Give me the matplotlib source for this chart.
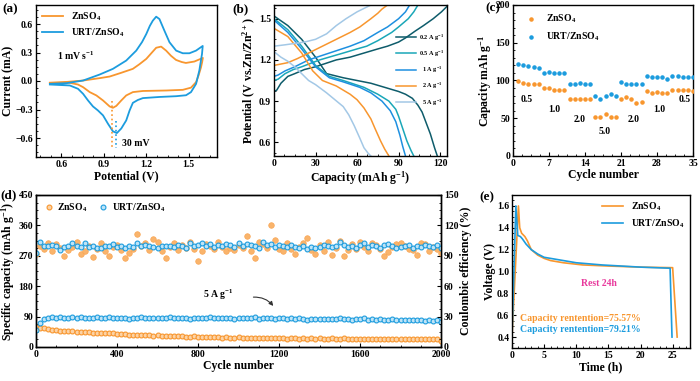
import numpy as np
import matplotlib
matplotlib.use('Agg')
import matplotlib.pyplot as plt

plt.rcParams['font.family'] = ['Liberation Serif', 'DejaVu Serif']
plt.rcParams['font.weight'] = 'bold'
plt.rcParams['axes.labelweight'] = 'bold'
plt.rcParams['mathtext.default'] = 'regular'
plt.rcParams['xtick.direction'] = 'in'
plt.rcParams['ytick.direction'] = 'in'
plt.rcParams['xtick.labelsize'] = 7
plt.rcParams['ytick.labelsize'] = 7
plt.rcParams['axes.linewidth'] = 1.0

ORANGE = '#F8962E'
BLUE = '#1C9CDE'
LBL = r'ZnSO$_4$'
LBL_U = r'URT/ZnSO$_4$'

# (a) CV curves
cv_zn_x = [0.518, 0.635, 0.753, 0.870, 0.941, 1.020, 1.105, 1.150, 1.200, 1.240, 1.270, 1.305, 1.340,
           1.375, 1.410, 1.450, 1.480, 1.540, 1.600,
           1.595, 1.587, 1.570, 1.552, 1.516, 1.458, 1.340, 1.176, 1.105, 1.058, 1.023, 0.988, 0.964,
           0.941, 0.894, 0.847, 0.800, 0.753, 0.717, 0.659, 0.518]
cv_zn_y = [-0.019, -0.010, 0.005, 0.030, 0.047, 0.085, 0.128, 0.175, 0.233, 0.300, 0.350, 0.362, 0.320,
           0.265, 0.222, 0.200, 0.190, 0.205, 0.243,
           0.200, 0.145, 0.060, -0.012, -0.070, -0.093, -0.100, -0.105, -0.117, -0.152, -0.205, -0.262,
           -0.282, -0.268, -0.205, -0.152, -0.117, -0.065, -0.037, -0.019, -0.019]
cv_u_x = [0.518, 0.635, 0.753, 0.870, 0.964, 1.058, 1.129, 1.170, 1.200, 1.225, 1.246, 1.270, 1.293,
          1.328, 1.364, 1.411, 1.458, 1.505, 1.552, 1.599,
          1.594, 1.575, 1.552, 1.516, 1.481, 1.411, 1.293, 1.176, 1.140, 1.105, 1.082, 1.058, 1.023,
          0.992, 0.964, 0.929, 0.894, 0.858, 0.823, 0.788, 0.753, 0.717, 0.659, 0.518]
cv_u_y = [-0.030, -0.023, 0.005, 0.068, 0.128, 0.215, 0.320, 0.410, 0.495, 0.580, 0.635, 0.677, 0.652,
          0.530, 0.408, 0.320, 0.292, 0.292, 0.320, 0.369,
          0.285, 0.110, -0.030, -0.117, -0.150, -0.160, -0.168, -0.180, -0.200, -0.230, -0.310, -0.415,
          -0.500, -0.548, -0.530, -0.450, -0.362, -0.310, -0.268, -0.205, -0.135, -0.082, -0.047, -0.037]

# (b) GCD curves, capacity (mAh/g) vs potential (V)
rates = ['0.2 A g$^{-1}$', '0.5 A g$^{-1}$', '  1 A g$^{-1}$', '  2 A g$^{-1}$', '  5 A g$^{-1}$']
rate_colors = ['#0E5C6B', '#1AA7B8', '#1E90E0', '#F8962E', '#A3C8E6']
dis_x = [[0, 10, 20, 30, 38, 50, 60, 70, 80, 90, 95, 100, 104, 107, 110, 113, 116, 118],
         [0, 10, 20, 30, 40, 50, 65, 75, 83, 88, 90, 93, 96, 99, 101],
         [0, 10, 20, 30, 40, 50, 62, 70, 78, 84, 88, 91, 93, 95],
         [0, 10, 20, 28, 35, 45, 55, 60, 65, 70, 73, 77, 80, 83],
         [0, 5, 10, 15, 20, 25, 30, 38, 44, 50, 54, 58, 62, 65, 68, 70]]
dis_y = [[1.52, 1.45, 1.35, 1.22, 1.10, 1.07, 1.05, 1.03, 1.00, 0.97, 0.95, 0.92, 0.87, 0.82, 0.74, 0.66, 0.56, 0.50],
         [1.50, 1.42, 1.30, 1.16, 1.08, 1.05, 1.00, 0.95, 0.90, 0.84, 0.79, 0.70, 0.61, 0.54, 0.50],
         [1.49, 1.40, 1.28, 1.15, 1.07, 1.04, 1.00, 0.96, 0.90, 0.83, 0.75, 0.65, 0.57, 0.50],
         [1.43, 1.37, 1.25, 1.12, 1.05, 1.01, 0.95, 0.91, 0.85, 0.77, 0.70, 0.61, 0.55, 0.50],
         [1.26, 1.22, 1.19, 1.15, 1.10, 1.05, 1.02, 0.96, 0.91, 0.86, 0.80, 0.72, 0.63, 0.56, 0.52, 0.50]]
chg_x = [[0, 2, 5, 10, 15, 22, 30, 45, 55, 65, 75, 82, 90, 95, 102, 108, 115, 121, 126],
         [0, 3, 8, 14, 20, 33, 50, 60, 67, 75, 80, 85, 90, 97, 101, 104],
         [0, 3, 8, 15, 25, 40, 55, 65, 75, 82, 90, 95, 98],
         [0, 5, 10, 17, 25, 35, 45, 55, 62, 70, 75, 78, 82],
         [0, 8, 15, 22, 30, 38, 45, 52, 60, 66, 70]]
chg_y = [[0.97, 0.98, 1.03, 1.08, 1.10, 1.13, 1.15, 1.20, 1.22, 1.25, 1.28, 1.30, 1.33, 1.36, 1.41, 1.45, 1.50, 1.55, 1.60],
         [1.05, 1.06, 1.10, 1.13, 1.15, 1.20, 1.25, 1.28, 1.30, 1.34, 1.37, 1.40, 1.44, 1.50, 1.55, 1.60],
         [1.08, 1.09, 1.12, 1.15, 1.20, 1.25, 1.30, 1.34, 1.40, 1.44, 1.50, 1.55, 1.60],
         [1.16, 1.17, 1.18, 1.21, 1.25, 1.30, 1.35, 1.40, 1.44, 1.50, 1.54, 1.57, 1.60],
         [1.30, 1.31, 1.32, 1.33, 1.35, 1.39, 1.45, 1.50, 1.55, 1.58, 1.60]]

# (c) rate performance
rate_cycles = list(range(1, 36))
rate_zn = [99, 97, 96, 95, 95, 90, 90, 88, 88, 88, 75, 75, 75, 75, 75, 52, 52, 56, 52, 52,
           75, 78, 75, 70, 72, 86, 84, 85, 84, 84, 87, 87, 87, 87, 86]
rate_u = [122, 120, 119, 118, 116, 110, 111, 110, 110, 110, 95, 95, 97, 95, 95, 80, 75, 80, 82, 80,
          98, 95, 96, 95, 95, 106, 105, 105, 104, 102, 106, 106, 105, 105, 105]
rate_text = ['0.5', '1.0', '2.0', '5.0', '2.0', '1.0', '0.5']
rate_text_x = [2.7, 8.0, 13.0, 17.9, 23.4, 28.5, 33.4]
rate_text_y = [75, 62, 48, 32, 48, 62, 75]

# (d) long cycling at 5 A/g, every 20 cycles
cyc = list(range(0, 2001, 20))
cap_u = [50, 72, 82, 87, 88, 87, 88, 86, 87, 88,
         87, 88, 87, 86, 87, 88, 87, 87, 88, 87,
         86, 85, 87, 82, 86, 87, 88, 86, 87, 85,
         87, 86, 87, 88, 86, 85, 87, 86, 84, 87,
         86, 85, 87, 88, 86, 87, 85, 86, 87, 84,
         86, 87, 85, 86, 88, 84, 86, 85, 87, 83,
         86, 85, 84, 86, 83, 85, 84, 81, 84, 83,
         82, 84, 83, 82, 84, 85, 82, 83, 81, 83,
         82, 85, 81, 82, 80, 82, 81, 80, 82, 79,
         81, 80, 79, 81, 79, 80, 78, 79, 77, 79,
         74]
cap_zn = [60, 57, 56, 53, 51, 50, 48, 48, 46, 46,
          45, 45, 43, 44, 42, 42, 41, 42, 40, 40,
          39, 38, 39, 37, 37, 36, 37, 35, 35, 34,
          35, 33, 33, 34, 32, 32, 33, 31, 31, 32,
          30, 30, 31, 29, 30, 29, 28, 30, 28, 28,
          29, 27, 28, 28, 27, 28, 26, 27, 28, 26,
          27, 26, 25, 27, 26, 25, 27, 25, 26, 25,
          26, 25, 24, 26, 25, 24, 26, 25, 24, 25,
          24, 25, 24, 23, 25, 24, 23, 25, 24, 23,
          24, 25, 23, 24, 23, 24, 25, 23, 24, 25,
          18]
ce_u = [93, 104, 100, 100, 101, 100, 96, 99, 100, 103,
        100, 99, 103, 99, 100, 98, 98, 100, 100, 102,
        99, 100, 98, 100, 99, 103, 100, 101, 100, 99,
        98, 100, 100, 100, 99, 101, 100, 98, 103, 100,
        101, 103, 100, 102, 99, 101, 100, 102, 101, 99,
        103, 100, 102, 101, 100, 98, 104, 101, 102, 99,
        101, 100, 99, 101, 99, 98, 100, 97, 99, 98,
        99, 101, 100, 99, 100, 104, 101, 99, 100, 98,
        101, 103, 99, 101, 100, 98, 101, 102, 100, 98,
        99, 100, 101, 98, 100, 99, 101, 100, 99, 101,
        98]
ce_zn = [92, 100, 97, 103, 95, 102, 98, 90, 96, 99,
         104, 92, 95, 100, 89, 97, 103, 95, 90, 99,
         101, 96, 88, 93, 97, 112, 100, 103, 96, 107,
         104, 95, 88, 99, 103, 96, 101, 98, 104, 97,
         85, 95, 102, 100, 97, 104, 99, 95, 98, 96,
         101, 98, 110, 95, 88, 104, 102, 98, 120, 106,
         97, 95, 103, 97, 92, 99, 103, 108, 96, 92,
         101, 95, 104, 91, 98, 105, 90, 96, 102, 97,
         104, 99, 95, 103, 101, 97, 90, 94, 99, 102,
         103, 100, 97, 96, 91, 103, 102, 95, 99, 97,
         93]

# (e) self-discharge
sd_zn_t = [0, 0.5, 1.0, 1.2, 1.5, 2.0, 2.4, 3.0, 4.0, 5.0, 6.0, 8.0, 11.0, 15.0, 20.0, 25.0, 25.7]
sd_zn_v = [0.40, 1.00, 1.60, 1.40, 1.35, 1.32, 1.28, 1.20, 1.15, 1.12, 1.10, 1.08, 1.06, 1.05, 1.04, 1.035, 0.40]
sd_u_t = [0, 0.3, 0.6, 0.9, 1.3, 1.6, 2.2, 3.0, 4.0, 5.0, 7.0, 10.0, 14.0, 20.0, 24.6, 24.9]
sd_u_v = [0.40, 1.00, 1.60, 1.33, 1.32, 1.30, 1.25, 1.20, 1.16, 1.13, 1.11, 1.08, 1.06, 1.04, 1.03, 0.40]

W, H = 700, 381
fig = plt.figure(figsize=(7.0, 3.81), dpi=100)


def box(l, t, r, b):
    return [l / W, 1 - b / H, (r - l) / W, (b - t) / H]


def style(ax):
    ax.minorticks_on()
    ax.tick_params(which='major', length=3, width=0.8, pad=2)
    ax.tick_params(which='minor', length=1.5, width=0.6)
    for lab in ax.get_xticklabels() + ax.get_yticklabels():
        lab.set_fontweight('bold')


AX_FS = 8.5

# ---- (a)
ax = fig.add_axes(box(36, 5, 217, 157))
ax.plot(cv_zn_x, cv_zn_y, color=ORANGE, lw=1.3, label=LBL)
ax.plot(cv_u_x, cv_u_y, color=BLUE, lw=1.3, label=LBL_U)
ax.plot([0.955, 0.955], [-0.21, -0.70], ls=':', color=ORANGE, lw=1.2)
ax.plot([0.985, 0.985], [-0.42, -0.70], ls=':', color=BLUE, lw=1.2)
ax.text(1.03, -0.66, '30 mV', fontsize=7, va='center')
ax.text(0.565, 0.27, '1 mV s$^{-1}$', fontsize=7, va='center')
ax.set_xlim(0.42, 1.70)
ax.set_ylim(-0.80, 0.80)
ax.set_xticks([0.6, 0.9, 1.2, 1.5])
ax.set_yticks([-0.6, -0.3, 0.0, 0.3, 0.6])
ax.set_xlabel('Potential (V)', fontsize=AX_FS, labelpad=1)
ax.set_ylabel('Current (mA)', fontsize=AX_FS, labelpad=1)
ax.legend(loc='upper left', frameon=False, fontsize=7, handlelength=2.2, borderaxespad=0.2,
          labelspacing=0.3)
style(ax)

# ---- (b)
ax = fig.add_axes(box(274, 5, 447, 156))
for i in range(len(rates)):
    ax.plot(chg_x[i], chg_y[i], color=rate_colors[i], lw=1.1, label=rates[i])
    ax.plot(dis_x[i], dis_y[i], color=rate_colors[i], lw=1.1)
ax.set_xlim(0, 125)
ax.set_ylim(0.5, 1.6)
ax.set_xticks([0, 30, 60, 90, 120])
ax.set_yticks([0.6, 0.9, 1.2, 1.5])
ax.set_xlabel('Capacity (mAh g$^{-1}$)', fontsize=AX_FS, labelpad=1)
ax.set_ylabel('Potential (V vs.Zn/Zn$^{2+}$)', fontsize=AX_FS, labelpad=1)
ax.legend(loc='upper right', bbox_to_anchor=(1.0, 0.84), frameon=False, fontsize=4.5,
          handlelength=3.2, handletextpad=0.4, labelspacing=0.95, borderaxespad=0.1)
style(ax)

# ---- (c)
ax = fig.add_axes(box(513, 5, 693, 156))
ax.scatter(rate_cycles, rate_zn, s=5, color=ORANGE, label=LBL, zorder=3)
ax.scatter(rate_cycles, rate_u, s=5, color=BLUE, label=LBL_U, zorder=3)
for tx, xx, yy in zip(rate_text, rate_text_x, rate_text_y):
    ax.text(xx, yy, tx, fontsize=7, ha='center', va='center')
ax.set_xlim(0, 35)
ax.set_ylim(0, 200)
ax.set_xticks([0, 7, 14, 21, 28, 35])
ax.set_yticks([0, 50, 100, 150, 200])
ax.set_xlabel('Cycle number', fontsize=AX_FS, labelpad=1)
ax.set_ylabel('Capacity mAh g$^{-1}$', fontsize=AX_FS, labelpad=1)
ax.legend(loc='upper left', frameon=False, fontsize=7, handletextpad=0.6, borderaxespad=0.4,
          markerscale=1.0, labelspacing=0.5)
style(ax)

# ---- (d)
ax = fig.add_axes(box(36, 195, 441, 347))
ax2 = ax.twinx()
ax.plot(cyc, cap_zn, 'o', ms=3.5, mfc='#FCD3A6', mec=ORANGE, mew=0.8, label=LBL, zorder=3)
ax.plot(cyc, cap_u, 'o', ms=3.5, mfc='#BFE4F7', mec=BLUE, mew=0.8, label=LBL_U, zorder=3)
ax2.plot(cyc, ce_zn, 'o', ms=4, mfc='#F9B46C', mec='#F9A553', mew=0.5)
ax2.plot(cyc, ce_u, 'o', ms=3.5, mfc='#BFE4F7', mec=BLUE, mew=0.8)
ax.text(900, 154, '5 A g$^{-1}$', fontsize=7, ha='center', va='center')
ax.annotate('', xy=(1180, 115), xytext=(1060, 147),
            arrowprops=dict(arrowstyle='-|>', color='#333333', lw=0.8, mutation_scale=6,
                            connectionstyle='arc3,rad=-0.3'))
ax.set_xlim(0, 2000)
ax.set_ylim(0, 450)
ax2.set_ylim(0, 150)
ax.set_xticks([0, 400, 800, 1200, 1600, 2000])
ax.set_yticks([0, 90, 180, 270, 360, 450])
ax2.set_yticks([0, 30, 60, 90, 120, 150])
ax.set_xlabel('Cycle number', fontsize=AX_FS, labelpad=1)
ax.set_ylabel('Specific capacity (mAh g$^{-1}$)', fontsize=AX_FS, labelpad=1)
ax2.set_ylabel('Coulombic efficiency (%)', fontsize=AX_FS, labelpad=1)
ax.legend(loc='upper left', ncol=2, frameon=False, fontsize=7, handletextpad=0.3,
          columnspacing=1.0, borderaxespad=0.3, handlelength=1.2)
style(ax)
style(ax2)

# ---- (e)
ax = fig.add_axes(box(512, 195, 690, 348))
ax.plot(sd_zn_t, sd_zn_v, color=ORANGE, lw=1.2, label=LBL)
ax.plot(sd_u_t, sd_u_v, color=BLUE, lw=1.2, label=LBL_U)
ax.text(13.5, 0.89, 'Rest 24h', color='#E8399C', fontsize=7, ha='center', va='center')
ax.text(1.3, 0.57, 'Capacity rentention=75.57%', color=ORANGE, fontsize=7, va='center')
ax.text(1.3, 0.47, 'Capacity rentention=79.21%', color=BLUE, fontsize=7, va='center')
ax.set_xlim(0, 27.7)
ax.set_ylim(0.3, 1.7)
ax.set_xticks([0, 5, 10, 15, 20, 25])
ax.set_yticks([0.4, 0.6, 0.8, 1.0, 1.2, 1.4, 1.6])
ax.set_xlabel('Time (h)', fontsize=AX_FS, labelpad=1)
ax.set_ylabel('Voltage (V)', fontsize=AX_FS, labelpad=1)
ax.legend(loc='upper right', frameon=False, fontsize=7, handlelength=2.2, borderaxespad=0.2,
          labelspacing=0.4)
style(ax)

# panel letters
for letter, px, py in [('(a)', 2, 3), ('(b)', 232, 3), ('(c)', 485, 2), ('(d)', 0, 189), ('(e)', 479, 191)]:
    fig.text(px / W, 1 - py / H, letter, fontsize=9.5, fontweight='bold', va='top', ha='left')

fig.savefig('out.png', dpi=100)
